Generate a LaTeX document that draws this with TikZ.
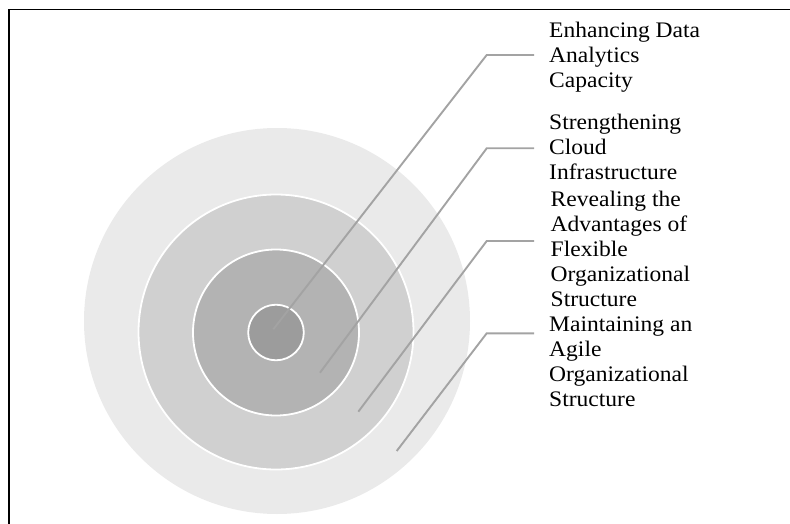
\documentclass[tikz,border=0pt]{standalone}
\usepackage{fontspec}
\setmainfont{Liberation Serif}
\newfontfamily\lblfont[FakeStretch=1.06]{Liberation Serif}
\definecolor{ringA}{HTML}{EAEAEA}
\definecolor{ringB}{HTML}{D0D0D0}
\definecolor{ringC}{HTML}{B3B3B3}
\definecolor{ringD}{HTML}{9C9C9C}
\definecolor{leadc}{HTML}{A3A3A3}
\tikzset{
  ring/.style={draw=white, line width=1.8pt},
  leader/.style={draw=leadc, line width=1.9pt},
  lbl/.style={anchor=north west, inner sep=0pt, align=left,
    font=\lblfont\fontsize{22.2}{25}\selectfont, text=black},
}
\newcommand{\lblstrut}{\rule{0pt}{17pt}}
\begin{document}
\begin{tikzpicture}[x=1pt,y=-1pt]
\useasboundingbox (0,0) rectangle (790,524);
% frame
\draw[black, line width=1.6pt] (790,9.5) -- (8.8,9.5) -- (8.8,524);
% rings
\fill[ringA] (277,321) circle (193);
\path[ring, fill=ringB] (276,332) circle (137.5);
\path[ring, fill=ringC] (276,332.5) circle (83);
\path[ring, fill=ringD] (276,332.5) circle (27.8);
% anchor coordinates
\coordinate (p1) at (273.3,329.3);
\coordinate (p2) at (320,372.7);
\coordinate (p3) at (358.3,411.7);
\coordinate (p4) at (396.7,451);
\coordinate (b1) at (486.7,55);
\coordinate (b2) at (486.7,148.3);
\coordinate (b3) at (486.7,241);
\coordinate (b4) at (486.7,333.3);
\coordinate (e1) at (534,55);
\coordinate (e2) at (534,148.3);
\coordinate (e3) at (534,241);
\coordinate (e4) at (534,333.3);
% leaders
\draw[leader] (p1) -- (b1) -- (e1);
\draw[leader] (p2) -- (b2) -- (e2);
\draw[leader] (p3) -- (b3) -- (e3);
\draw[leader] (p4) -- (b4) -- (e4);
% labels
\node[lbl] (t1) at (549,20.5) {\lblstrut Enhancing Data\\Analytics\\Capacity};
\node[lbl] (t2) at (549,112.3) {\lblstrut Strengthening\\Cloud\\Infrastructure};
\node[lbl] (t3) at (550.5,188.8) {\lblstrut Revealing the\\Advantages of\\Flexible\\Organizational\\Structure};
\node[lbl] (t4) at (549,314) {\lblstrut Maintaining an\\Agile\\Organizational\\Structure};
\end{tikzpicture}
\end{document}
